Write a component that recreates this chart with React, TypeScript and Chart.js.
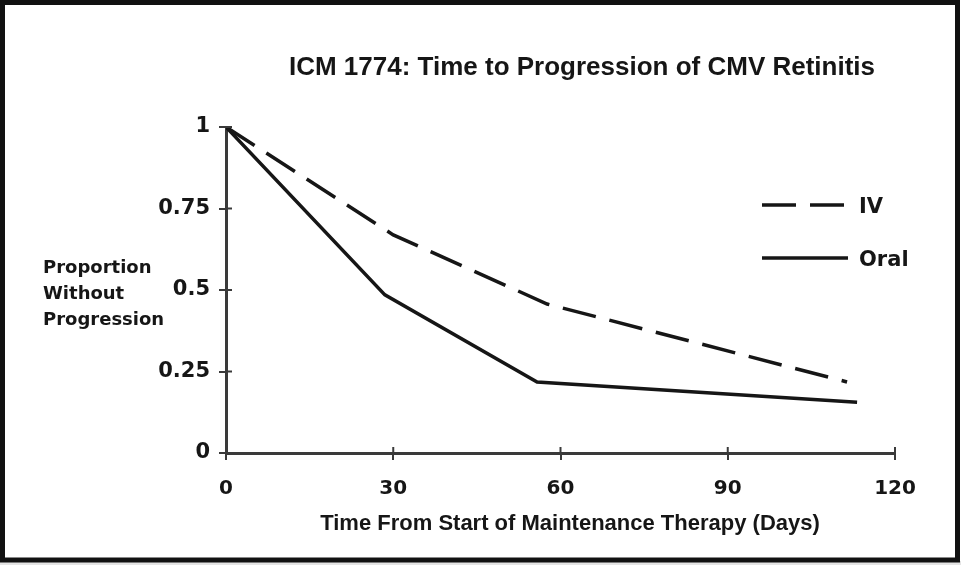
import React, { useEffect, useRef } from "react";
import { Chart, registerables } from "chart.js";

Chart.register(...registerables);

// ---- data ----
const xTickValues = [0, 30, 60, 90, 120];
const yTickValues = [0, 0.25, 0.5, 0.75, 1];
const ivDays = [0, 30, 57.6, 111.4];
const ivValues = [1, 0.669, 0.457, 0.218];
const oralDays = [0, 28.5, 55.8, 113.2];
const oralValues = [1, 0.485, 0.218, 0.156];
const seriesLabels = ["IV", "Oral"];
const chartTitle = "ICM 1774: Time to Progression of CMV Retinitis";
const yTitleLines = ["Proportion", "Without", "Progression"];
const xTitle = "Time From Start of Maintenance Therapy (Days)";

const INK = "#161616";
const AXIS = "#3a3a3a";

const decorPlugin = {
  id: "decor",
  beforeDraw(chart: any) {
    const { ctx, width, height } = chart;
    ctx.save();
    ctx.fillStyle = "#ffffff";
    ctx.fillRect(0, 0, width, height);
    ctx.fillStyle = "#e4e4e4";
    ctx.fillRect(0, height - 4, width, 4);
    ctx.strokeStyle = "#111";
    ctx.lineWidth = 5;
    ctx.strokeRect(2.5, 2.5, width - 6, height - 7.5);
    ctx.restore();
  },
  afterDraw(chart: any) {
    const { ctx, scales, chartArea } = chart;
    ctx.save();
    // inner halves of the crossing tick marks
    ctx.strokeStyle = AXIS;
    ctx.lineWidth = 2;
    yTickValues.forEach((v) => {
      const py = scales.y.getPixelForValue(v);
      ctx.beginPath();
      ctx.moveTo(chartArea.left, py);
      ctx.lineTo(chartArea.left + 6, py);
      ctx.stroke();
    });
    xTickValues.forEach((v) => {
      const px = scales.x.getPixelForValue(v);
      ctx.beginPath();
      ctx.moveTo(px, chartArea.bottom);
      ctx.lineTo(px, chartArea.bottom - 6);
      ctx.stroke();
    });

    ctx.fillStyle = INK;
    ctx.textBaseline = "middle";
    // title
    ctx.font = "bold 26px 'Liberation Sans', Arial, sans-serif";
    ctx.textAlign = "center";
    ctx.fillText(chartTitle, 582, 68);
    // x title
    ctx.font = "bold 22px 'Liberation Sans', Arial, sans-serif";
    ctx.fillText(xTitle, 570, 524);
    // y title
    ctx.font = "bold 18px 'DejaVu Sans', sans-serif";
    ctx.textAlign = "left";
    yTitleLines.forEach((t, i) => ctx.fillText(t, 43, 268 + i * 26));
    // legend
    const rows = [205, 258];
    chart.data.datasets.forEach((ds: any, i: number) => {
      const y = rows[i];
      ctx.strokeStyle = ds.borderColor;
      ctx.lineWidth = ds.borderWidth;
      ctx.setLineDash(ds.borderDash || []);
      ctx.beginPath();
      ctx.moveTo(762, y);
      ctx.lineTo(848, y);
      ctx.stroke();
      ctx.setLineDash([]);
      ctx.font = "bold 21px 'DejaVu Sans', sans-serif";
      ctx.fillStyle = INK;
      ctx.fillText(ds.label, 859, y + 3);
    });
    ctx.restore();
  },
};

export default function App() {
  const ref = useRef<HTMLCanvasElement>(null);
  useEffect(() => {
    if (!ref.current) return;
    const chart = new Chart(ref.current, {
      type: "line",
      data: {
        datasets: [
          {
            label: seriesLabels[0],
            data: ivDays.map((d, i) => ({ x: d, y: ivValues[i] })),
            borderColor: INK,
            borderWidth: 3.5,
            borderDash: [34, 14],
            pointRadius: 0,
            tension: 0,
            fill: false,
          },
          {
            label: seriesLabels[1],
            data: oralDays.map((d, i) => ({ x: d, y: oralValues[i] })),
            borderColor: INK,
            borderWidth: 3.5,
            pointRadius: 0,
            tension: 0,
            fill: false,
          },
        ],
      },
      options: {
        responsive: false,
        animation: false,
        layout: { padding: { left: 0, top: 127, right: 66, bottom: 0 } },
        plugins: {
          legend: { display: false },
          title: { display: false },
          tooltip: { enabled: false },
        },
        scales: {
          x: {
            type: "linear",
            min: 0,
            max: 120,
            afterBuildTicks: (s: any) => {
              s.ticks = xTickValues.map((v) => ({ value: v }));
            },
            afterFit: (s: any) => {
              s.height = 112;
            },
            border: { color: AXIS, width: 3 },
            grid: { drawOnChartArea: false, drawTicks: true, tickLength: 7, color: AXIS, lineWidth: 2 },
            ticks: {
              color: INK,
              padding: 17,
              font: { family: "'DejaVu Sans', sans-serif", size: 20, weight: "bold" },
            },
          },
          y: {
            type: "linear",
            min: 0,
            max: 1,
            afterBuildTicks: (s: any) => {
              s.ticks = yTickValues.map((v) => ({ value: v }));
            },
            afterFit: (s: any) => {
              s.width = 226;
            },
            border: { color: AXIS, width: 3 },
            grid: { drawOnChartArea: false, drawTicks: true, tickLength: 7, color: AXIS, lineWidth: 2 },
            ticks: {
              color: INK,
              padding: 9,
              font: { family: "'DejaVu Sans', sans-serif", size: 21, weight: "bold" },
              callback: (v: any) => String(v),
            },
          },
        },
      },
      plugins: [decorPlugin],
    } as any);
    return () => chart.destroy();
  }, []);
  return (
    <div style={{ position: "fixed", left: 0, top: 0, width: 961, height: 565 }}>
      <canvas ref={ref} width={961} height={565} />
    </div>
  );
}
